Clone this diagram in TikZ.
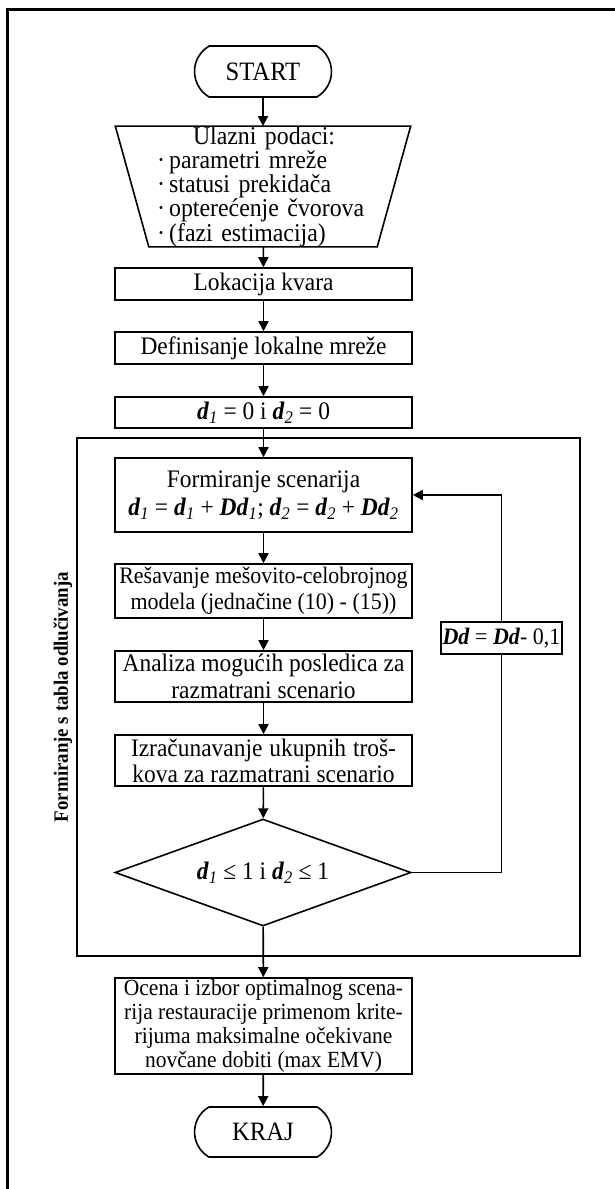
\documentclass[tikz,border=0pt]{standalone}
\usepackage{fontspec}
\setmainfont{Liberation Serif}[FakeStretch=0.93]
\usetikzlibrary{arrows.meta,shapes.geometric,shapes.misc}

% bold italic variable and italic subscript
\newcommand{\bitx}[1]{\textbf{\textit{#1}}}
\newcommand{\subit}[1]{\textsubscript{\textit{#1}}}

\begin{document}
\begin{tikzpicture}[x=1pt,y=-1pt,
  box/.style={draw, line width=1.6pt, rectangle, minimum width=297pt,
    inner sep=0pt, align=center, font=\fontsize{25.2}{26.5}\selectfont},
  term/.style={draw, line width=1.6pt, rounded rectangle,
    rounded rectangle arc length=120, minimum width=137pt,
    minimum height=51pt, inner sep=0pt, font=\fontsize{26.5}{28}\selectfont},
  flow/.style={line width=1.6pt, -{Triangle[length=10pt,width=10pt]}},
  link/.style={line width=1.6pt}]

\useasboundingbox (0,0) rectangle (615,1189);
\fill[white] (0,0) rectangle (615,1189);

% page frame (open to the right and bottom)
\draw[line width=3pt, line join=miter] (7.5,1189) -- (7.5,9) -- (615,9);

% start and input data
\node[term] (start) at (263,71.5) {START};
\node[minimum width=228pt, minimum height=113pt, inner sep=0pt,
      text width=212pt, align=left,
      font=\fontsize{25.6}{22}\selectfont] (in) at (263,186.5)
  {\hspace*{36pt}Ulazni podaci:\\
   ·\,parametri mreže\\
   ·\,statusi prekidača\\
   ·\,opterećenje čvorova\\
   ·\,(fazi estimacija)};
\draw[link] ([xshift=-33.5pt]in.north west) -- ([xshift=33.5pt]in.north east)
  -- (in.south east) -- (in.south west) -- cycle;

\node[box, minimum height=32pt] (lok) at (263.5,284) {Lokacija kvara};
\node[box, minimum height=32pt] (def) at (263.5,348) {Definisanje lokalne mreže};
\node[box, minimum height=31pt] (init) at (263.5,412.5)
  {\bitx{d}\subit{1} = 0 i \bitx{d}\subit{2} = 0};

% decision-tree loop
\node[draw, line width=1.6pt, minimum width=503pt, minimum height=518pt,
      inner sep=0pt] (loop) at (328.5,697) {};
\node[rotate=90, font=\bfseries\fontsize{20.3}{21}\selectfont] (lbl) at (63,697)
  {Formiranje s tabla odlučivanja};

\node[box, minimum height=74pt, font=\fontsize{25.2}{28}\selectfont] (form) at (263.5,495)
  {Formiranje scenarija\\
   \bitx{d}\subit{1} = \bitx{d}\subit{1} + \bitx{Dd}\subit{1}; \bitx{d}\subit{2} = \bitx{d}\subit{2} + \bitx{Dd}\subit{2}};
\node[box, minimum height=54pt, font=\fontsize{23.6}{26}\selectfont] (res) at (263.5,591)
  {Rešavanje mešovito-celobrojnog\\modela (jednačine (10) - (15))};
\node[box, minimum height=51pt, font=\fontsize{25.2}{26.5}\selectfont] (ana) at (263.5,676.5)
  {Analiza mogućih posledica za\\razmatrani scenario};
\node[box, minimum height=51pt, font=\fontsize{25.2}{26}\selectfont] (izr) at (263.5,760.5)
  {\makebox[265pt][s]{Izračunavanje ukupnih troš-}\\kova za razmatrani scenario};
\node[draw, line width=1.6pt, diamond, aspect=2.77, minimum width=296pt,
      minimum height=107pt, inner sep=0pt, font=\fontsize{25.2}{26}\selectfont] (dec) at (263,872.5)
  {\bitx{d}\subit{1} ≤ 1 i \bitx{d}\subit{2} ≤ 1};
\node[draw, line width=1.6pt, fill=white, minimum width=121pt, minimum height=32pt,
      inner sep=0pt, font=\fontsize{23.6}{26}\selectfont] (dd) at (501.5,638)
  {\bitx{Dd} = \bitx{Dd}- 0,1};

% evaluation and end
\node[box, minimum height=96pt, font=\fontsize{23.1}{24}\selectfont] (oce) at (263.5,1026)
  {Ocena i izbor optimalnog scena-\\
   rija restauracije primenom krite-\\
   rijuma maksimalne očekivane\\
   novčane dobiti (max EMV)};
\node[term, minimum height=50pt] (end) at (263,1132) {KRAJ};

% connectors
\draw[flow] (start) -- (in);
\draw[flow] (in) -- (lok);
\draw[flow] (lok) -- (def);
\draw[flow] (def) -- (init);
\draw[flow] (init) -- (form);
\draw[flow] (form) -- (res);
\draw[flow] (res) -- (ana);
\draw[flow] (ana) -- (izr);
\draw[flow] (izr) -- (dec);
\draw[flow] (dec) -- (oce);
\draw[flow] (oce) -- (end);
\draw[link] (dec.east) -| (dd.south);
\draw[flow] (dd.north) |- (form.east);
\end{tikzpicture}
\end{document}
